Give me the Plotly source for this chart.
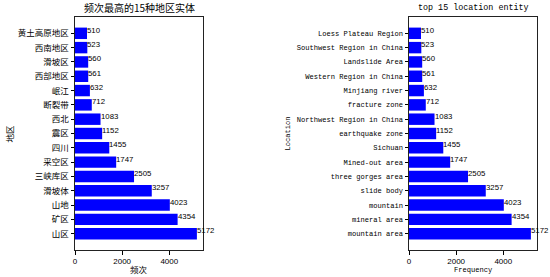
import plotly.graph_objects as go
from plotly.subplots import make_subplots

# Data (bottom to top)
cn_locations = ["山区", "矿区", "山地", "滑坡体", "三峡库区", "采空区", "四川", "震区", "西北",
                "断裂带", "岷江", "西部地区", "滑坡区", "西南地区", "黄土高原地区"]
en_locations = ["mountain area", "mineral area", "mountain", "slide body", "three gorges area",
                "Mined-out area", "Sichuan", "earthquake zone", "Northwest Region in China",
                "fracture zone", "Minjiang river", "Western Region in China", "Landslide Area",
                "Southwest Region in China", "Loess Plateau Region"]
frequency = [5172, 4354, 4023, 3257, 2505, 1747, 1455, 1152, 1083, 712, 632, 561, 560, 523, 510]
x_ticks = [0, 2000, 4000]

CJK = "Noto Sans CJK SC"
MONO = "Liberation Mono"
NUM = "Liberation Sans"

W, H = 550, 277
def px_x(p):
    return p / W
def px_y(p):
    return 1 - p / H

fig = make_subplots(rows=1, cols=2)

fig.add_trace(go.Bar(x=frequency, y=cn_locations, orientation="h",
                     marker=dict(color="#0000FF", line=dict(width=0)),
                     showlegend=False, hoverinfo="x+y"), row=1, col=1)
fig.add_trace(go.Bar(x=frequency, y=en_locations, orientation="h",
                     marker=dict(color="#0000FF", line=dict(width=0)),
                     showlegend=False, hoverinfo="x+y"), row=1, col=2)

xmax = max(frequency) * 1.05
yr = [-1.14, len(frequency) - 1 + 1.14]

common_x = dict(range=[0, xmax], tickvals=x_ticks, ticks="outside", ticklen=3.5,
                tickcolor="black", showline=True, linecolor="#222", linewidth=1,
                mirror=True, showgrid=False, zeroline=False, automargin=False,
                tickfont=dict(family=NUM, size=8, color="black"))
common_y = dict(range=yr, ticks="outside", ticklen=3.5, tickcolor="black",
                showline=True, linecolor="#222", linewidth=1, mirror=True,
                showgrid=False, zeroline=False, type="category", automargin=False)

fig.update_layout(
    width=W, height=H, margin=dict(l=0, r=0, t=0, b=0, autoexpand=False),
    plot_bgcolor="white", paper_bgcolor="white", bargap=0.2,
    xaxis=dict(domain=[px_x(75), px_x(203)], **common_x),
    xaxis2=dict(domain=[px_x(409), px_x(537)], **common_x),
    yaxis=dict(domain=[px_y(250), px_y(17)],
               tickfont=dict(family=CJK, size=8.5, color="black"), **common_y),
    yaxis2=dict(domain=[px_y(250), px_y(17)],
                tickfont=dict(family=MONO, size=7.1, color="black"), **common_y),
)

annotations = []
for xref, yref, cats in (("x", "y", cn_locations), ("x2", "y2", en_locations)):
    for c, v in zip(cats, frequency):
        annotations.append(dict(x=v, y=c, xref=xref, yref=yref, text=str(v),
                                showarrow=False, xanchor="left", yanchor="middle",
                                yshift=3, xshift=-1, borderpad=0,
                                font=dict(family=NUM, size=7.8, color="black")))

# titles and axis labels
annotations += [
    dict(x=px_x(139), y=px_y(8), xref="paper", yref="paper", text="频次最高的15种地区实体",
         showarrow=False, xanchor="center", yanchor="middle",
         font=dict(family=CJK, size=10, color="black")),
    dict(x=px_x(473), y=px_y(8), xref="paper", yref="paper", text="top 15 location entity",
         showarrow=False, xanchor="center", yanchor="middle",
         font=dict(family=MONO, size=8.4, color="black")),
    dict(x=px_x(139), y=px_y(269), xref="paper", yref="paper", text="频次",
         showarrow=False, xanchor="center", yanchor="middle",
         font=dict(family=CJK, size=8.5, color="black")),
    dict(x=px_x(473), y=px_y(270), xref="paper", yref="paper", text="Frequency",
         showarrow=False, xanchor="center", yanchor="middle",
         font=dict(family=MONO, size=7.1, color="black")),
    dict(x=px_x(8), y=px_y(133.5), xref="paper", yref="paper", text="地区",
         showarrow=False, xanchor="center", yanchor="middle", textangle=-90,
         font=dict(family=CJK, size=8.5, color="black")),
    dict(x=px_x(287), y=px_y(133.5), xref="paper", yref="paper", text="Location",
         showarrow=False, xanchor="center", yanchor="middle", textangle=-90,
         font=dict(family=MONO, size=7.1, color="black")),
]
fig.update_layout(annotations=annotations)

fig.write_html("out.html", config={"displayModeBar": False},
               post_script="document.body.style.margin='0';document.body.style.overflow='hidden';")
